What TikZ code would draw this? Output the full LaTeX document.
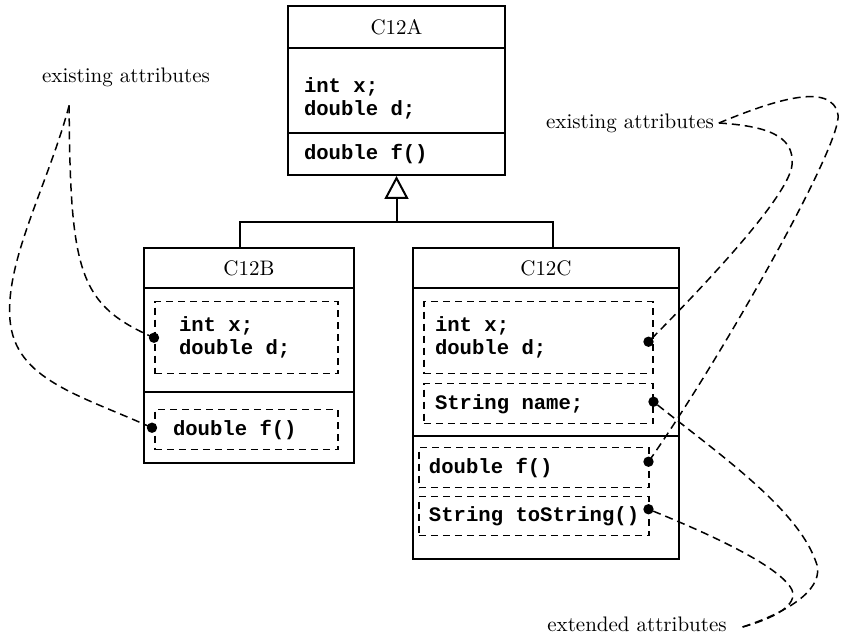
\documentclass[tikz,border=0pt]{standalone}
\usepackage{fontspec}
\setmonofont{Liberation Mono}
\usetikzlibrary{arrows.meta}
\tikzset{
  every picture/.style={line width=1pt},
  cls/.style={draw, anchor=north west, inner sep=0pt, font=\fontsize{10.5}{12}\selectfont},
  member/.style={draw, line width=0.75pt, dash pattern=on 3.5pt off 2.5pt, anchor=north west, inner sep=0pt},
  code/.style={font=\fontsize{10.3}{11.5}\selectfont\ttfamily\bfseries, align=left, anchor=west, inner sep=0pt},
  tag/.style={font=\fontsize{10.5}{12}\selectfont, inner sep=0pt},
  note/.style={line width=0.75pt, dash pattern=on 4pt off 2.5pt},
  inherit/.style={-{Triangle[open, length=11.5pt, width=12pt]}},
}

\begin{document}
\begin{tikzpicture}[x=0.5pt, y=-0.5pt]
  \useasboundingbox (0,0) rectangle (843,640);
  % base class
  \node[cls, minimum width=108.5pt, minimum height=21pt] (Aname) at (287,5) {C12A};
  \node[cls, minimum width=108.5pt, minimum height=42.5pt] (Aattr) at (287,47) {};
  \node[cls, minimum width=108.5pt, minimum height=21pt] (Ameth) at (287,132) {};
  \node[code] (Aattrtxt) at (303,98) {int x;\\double d;};
  \node[code] (Amethtxt) at (303,154) {double f()};
  % subclass C12B
  \node[cls, minimum width=105pt, minimum height=20pt] (Bname) at (143,247) {C12B};
  \node[cls, minimum width=105pt, minimum height=52pt] (Battr) at (143,287) {};
  \node[cls, minimum width=105pt, minimum height=35.5pt] (Bmeth) at (143,391) {};
  \node[member, minimum width=91.5pt, minimum height=36pt] (b1) at (154,301) {};
  \node[member, minimum width=91.5pt, minimum height=20pt] (b2) at (154,409) {};
  \node[code] (b1txt) at ([xshift=12pt]b1.west) {int x;\\double d;};
  \node[code] (b2txt) at ([xshift=9pt]b2.west) {double f()};
  % subclass C12C
  \node[cls, minimum width=133pt, minimum height=20pt] (Cname) at (412,247) {C12C};
  \node[cls, minimum width=133pt, minimum height=74pt] (Cattr) at (412,287) {};
  \node[cls, minimum width=133pt, minimum height=61.5pt] (Cmeth) at (412,435) {};
  \node[member, minimum width=114.5pt, minimum height=36pt] (c1) at (423,301) {};
  \node[member, minimum width=114.5pt, minimum height=20pt] (c2) at (423,383) {};
  \node[member, minimum width=115pt, minimum height=20pt] (c3) at (418,447) {};
  \node[member, minimum width=115pt, minimum height=19.5pt] (c4) at (418,496) {};
  \node[code] (c1txt) at ([xshift=5.5pt]c1.west) {int x;\\double d;};
  \node[code] (c2txt) at ([xshift=5.5pt]c2.west) {String name;};
  \node[code] (c3txt) at ([xshift=5pt]c3.west) {double f()};
  \node[code] (c4txt) at ([xshift=5pt]c4.west) {String toString()};
  % generalization
  \coordinate (hub) at (Ameth.south |- 0,222);
  \coordinate (bUp) at (240,247);
  \coordinate (cUp) at (553,247);
  \draw (bUp) -- ++(0,-25) -| (cUp);
  \draw[inherit] (hub) -- (Ameth.south);
  % labels
  \node[tag] (lblL) at (126,77) {existing attributes};
  \node[tag] (lblR) at (630,123) {existing attributes};
  \node[tag] (lblX) at (637,624) {extended attributes};
  \coordinate (apL) at ([xshift=14pt,yshift=-9pt]lblL.south west);
  \coordinate (apR) at ([xshift=2pt]lblR.east);
  \coordinate (apX) at ([xshift=7.5pt,yshift=-1.5pt]lblX.east);
  % pins
  \coordinate (dB1) at (b1.west);
  \coordinate (dB2) at ([xshift=-1pt,yshift=1pt]b2.west);
  \coordinate (dC1) at ([xshift=-2.5pt,yshift=-2pt]c1.east);
  \coordinate (dC2) at ([yshift=1pt]c2.east);
  \coordinate (dC3) at ([xshift=-0.5pt,yshift=3pt]c3.east);
  \coordinate (dC4) at ([xshift=-0.5pt,yshift=3.5pt]c4.east);
  \foreach \p in {dB1,dB2,dC1,dC2,dC3,dC4}
    \fill (\p) circle (2.6pt);
  % dashed pointers
  \draw[note] (apL) .. controls (70,275) and (80,305) .. (dB1);
  \draw[note] (apL) .. controls (48,185) and (5,260) .. (10,320) .. controls (15,380) and (80,395) .. (dB2);
  \draw[note] (apR) .. controls (765,126) and (795,135) .. (792,165) .. controls (789,195) and (710,280) .. (dC1);
  \draw[note] (apR) .. controls (770,102) and (832,80) .. (838,115) .. controls (842,145) and (720,360) .. (dC3);
  \draw[note] (apX) .. controls (800,608) and (822,585) .. (817,565) .. controls (800,510) and (720,455) .. (dC2);
  \draw[note] (apX) .. controls (775,618) and (798,605) .. (792,590) .. controls (780,565) and (700,530) .. (dC4);
\end{tikzpicture}
\end{document}
